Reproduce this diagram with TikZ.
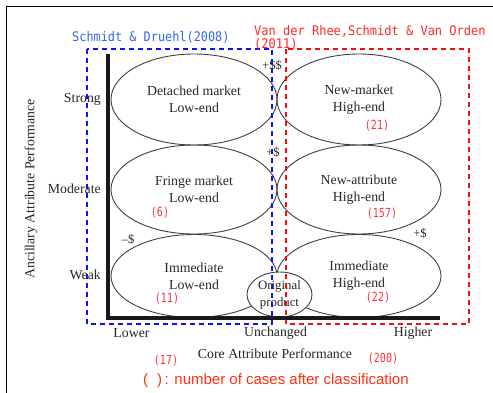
\documentclass[tikz,border=0pt]{standalone}
\usepackage{fontspec}
\usepackage{graphicx}
\setmainfont{Liberation Serif}
\newfontfamily\monofnt{DejaVu Sans Mono}
\newfontfamily\notefnt{Liberation Sans}
\usetikzlibrary{shapes.geometric}
\definecolor{txtc}{HTML}{262626}
\definecolor{ellc}{HTML}{404040}
\definecolor{bluebox}{HTML}{1010F0}
\definecolor{bluetxt}{HTML}{3366EE}
\definecolor{redbox}{HTML}{F01010}
\definecolor{redtxt}{HTML}{FF2828}
\definecolor{cnt}{HTML}{FF3040}
\definecolor{notec}{HTML}{FF3010}
\newcommand{\narrowmono}[2]{\scalebox{#1}[1]{#2}}
\tikzset{
  ell/.style={ellipse, draw=ellc, line width=0.9pt, inner sep=0pt, align=center,
    text=txtc, font=\fontsize{13.8}{17}\selectfont},
  lab/.style={inner sep=0pt, text=txtc, font=\fontsize{13.8}{17}\selectfont},
  sgn/.style={inner sep=0pt, text=txtc, font=\fontsize{12.5}{15}\selectfont},
  count/.style={inner sep=0pt, text=cnt, font=\monofnt\fontsize{12.5}{13}\selectfont},
  ttl/.style={inner sep=0pt, anchor=west, font=\monofnt\fontsize{13.2}{14}\selectfont},
  dbox/.style={line width=1.8pt, dash pattern=on 5pt off 4pt},
  axisline/.style={line width=4pt, black!90},
}
\begin{document}
\begin{tikzpicture}[x=1pt,y=-1pt]
\useasboundingbox (0,0) rectangle (493,393);
% frame
\coordinate (fa) at (6.5,393);
\coordinate (fb) at (6.5,6.5);
\coordinate (fc) at (493,6.5);
\draw[line width=1.2pt, black] (fa) -- (fb) -- (fc);

% ellipses
\node[ell, minimum width=166pt, minimum height=91pt] (dm) at (194,99.5) {Detached market\\Low-end};
\node[ell, minimum width=164pt, minimum height=91pt] (nm) at (359,99.5) {New-market\\High-end};
\node[ell, minimum width=166pt, minimum height=89pt] (fm) at (194,189.5) {Fringe market\\Low-end};
\node[ell, minimum width=164pt, minimum height=89pt] (na) at (359,189.5) {New-attribute\\High-end};
\node[ell, minimum width=166pt, minimum height=83pt] (il) at (194,276) {Immediate\\Low-end};
\node[ell, minimum width=164pt, minimum height=83pt] (ih) at (359,276) {Immediate\\High-end};
\node[ell, fill=white, minimum width=65pt, minimum height=45pt, font=\fontsize{12.8}{17}\selectfont] (op) at (279.5,294.5) {Original\\product};

% counts
\node[count] (c21) at (377,126) {\narrowmono{0.8}{(21)}};
\node[count] (c157) at (382,214) {\narrowmono{0.8}{(157)}};
\node[count] (c22) at (378,298) {\narrowmono{0.8}{(22)}};
\node[count] (c6) at (160,213) {\narrowmono{0.8}{(6)}};
\node[count] (c11) at (167,299) {\narrowmono{0.8}{(11)}};
\node[count] (c17) at (166,361) {\narrowmono{0.8}{(17)}};
\node[count] (c200) at (383,359) {\narrowmono{0.8}{(200)}};

% dashed boxes
\draw[dbox, bluebox] (87,49) rectangle (272,324);
\draw[dbox, redbox] (286,49) rectangle (469,324);

% axes
\coordinate (ytop) at (108,54);
\coordinate (orig) at (108,318);
\coordinate (xend) at (440,318);
\draw[axisline] (ytop) -- (orig) -- (xend);

% signs
\node[sgn] (s1) at (272,65) {+\$\$};
\node[sgn] (s2) at (273,152) {+\$};
\node[sgn] (s3) at (128,239) {--\$};
\node[sgn] (s4) at (420,233) {+\$};

% axis labels
\node[lab, anchor=east] (strong) at (101,99) {Strong};
\node[lab, anchor=east] (moderate) at (101,189) {Moderate};
\node[lab, anchor=east] (weak) at (101,275) {Weak};
\node[lab, rotate=90] (ylab) at (31,189) {Ancillary Attribute Performance};
\node[lab] (lower) at (131.5,333) {Lower};
\node[lab] (unch) at (275.5,333) {Unchanged};
\node[lab] (higher) at (413,333) {Higher};
\node[lab] (xlab) at (275,354) {Core Attribute Performance};

% titles
\node[ttl, text=bluetxt] (t1) at (72,37) {\narrowmono{0.9}{Schmidt \& Druehl(2008)}};
\node[ttl, text=redtxt] (t2) at (254,31) {\narrowmono{0.91}{Van der Rhee,Schmidt \& Van Orden}};
\node[ttl, text=redtxt] (t3) at (254,44.5) {\narrowmono{0.91}{(2011)}};

% note
\node[inner sep=0pt, anchor=west, text=notec, font=\notefnt\fontsize{15}{16}\selectfont] (note) at (143,381) {(\hspace{0.6em})\,: number of cases after classification};
\end{tikzpicture}
\end{document}
